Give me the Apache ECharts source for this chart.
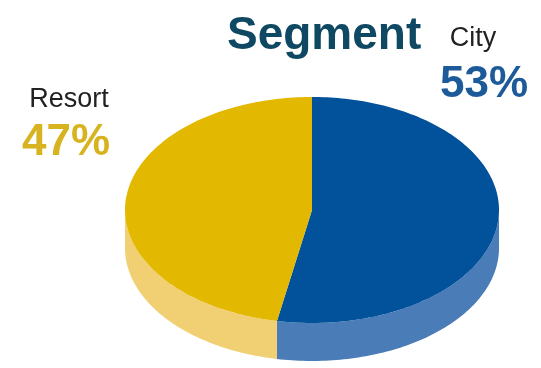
<!DOCTYPE html>
<html>
<head>
<meta charset="utf-8">
<script src="https://cdn.jsdelivr.net/npm/echarts@6/dist/echarts.min.js"></script>
<style>
  html, body { margin: 0; padding: 0; background: #fff; }
  #main { width: 541px; height: 368px; }
</style>
</head>
<body>
<div id="main"></div>
<script>
// segment share
const categories = ['City', 'Resort'];
const values = [53, 47];
const topColors = ['#02519b', '#e3b800'];
const sideColors = ['#4a7cb7', '#f0d072'];
const labelColors = ['#1d5a99', '#d8b320'];

// pseudo 3d pie geometry
const cx = 312, cy = 210, rx = 187, ry = 113, depth = 38;
const total = values.reduce((s, v) => s + v, 0);

const pt = (t, dy = 0) => [cx + rx * Math.sin(t), cy - ry * Math.cos(t) + dy];

const arc = (t1, t2, dy = 0) => {
  const pts = [];
  const n = Math.max(2, Math.ceil((t2 - t1) / 0.02));
  for (let i = 0; i <= n; i++) pts.push(pt(t1 + (t2 - t1) * i / n, dy));
  return pts;
};

const renderItem = (params, api) => {
  const i = params.dataIndex;
  let before = 0;
  for (let k = 0; k < i; k++) before += values[k];
  const t1 = before / total * Math.PI * 2;
  const t2 = (before + api.value(0)) / total * Math.PI * 2;
  const children = [];
  // front wall only
  const s1 = Math.max(t1, Math.PI / 2), s2 = Math.min(t2, Math.PI * 1.5);
  if (s2 > s1) {
    const pts = arc(s1, s2).concat(arc(s1, s2, depth).reverse());
    children.push({ type: 'polygon', shape: { points: pts }, style: { fill: sideColors[i] } });
  }
  children.push({
    type: 'polygon',
    shape: { points: [[cx, cy]].concat(arc(t1, t2)) },
    style: { fill: topColors[i] }
  });
  return { type: 'group', children };
};

const chart = echarts.init(document.getElementById('main'));
chart.setOption({
  animation: false,
  title: {
    text: 'Segment',
    left: 222, top: 8,
    textStyle: { fontFamily: 'Liberation Sans', fontSize: 46, fontWeight: 'bold', color: '#0e4862' }
  },
  series: [{
    type: 'custom',
    coordinateSystem: 'none',
    renderItem,
    data: values.map(v => [v])
  }],
  graphic: [
    { type: 'text', x: 473, y: 52, style: { text: categories[0], fontFamily: 'Liberation Sans', fontSize: 27, fill: '#222', align: 'center', verticalAlign: 'bottom' } },
    { type: 'text', x: 484, y: 107, style: { text: values[0] + '%', fontFamily: 'Liberation Sans', fontSize: 44, fontWeight: 'bold', fill: labelColors[0], align: 'center', verticalAlign: 'bottom' } },
    { type: 'text', x: 69, y: 113, style: { text: categories[1], fontFamily: 'Liberation Sans', fontSize: 27, fill: '#222', align: 'center', verticalAlign: 'bottom' } },
    { type: 'text', x: 66, y: 165, style: { text: values[1] + '%', fontFamily: 'Liberation Sans', fontSize: 44, fontWeight: 'bold', fill: labelColors[1], align: 'center', verticalAlign: 'bottom' } }
  ]
});
</script>
</body>
</html>
